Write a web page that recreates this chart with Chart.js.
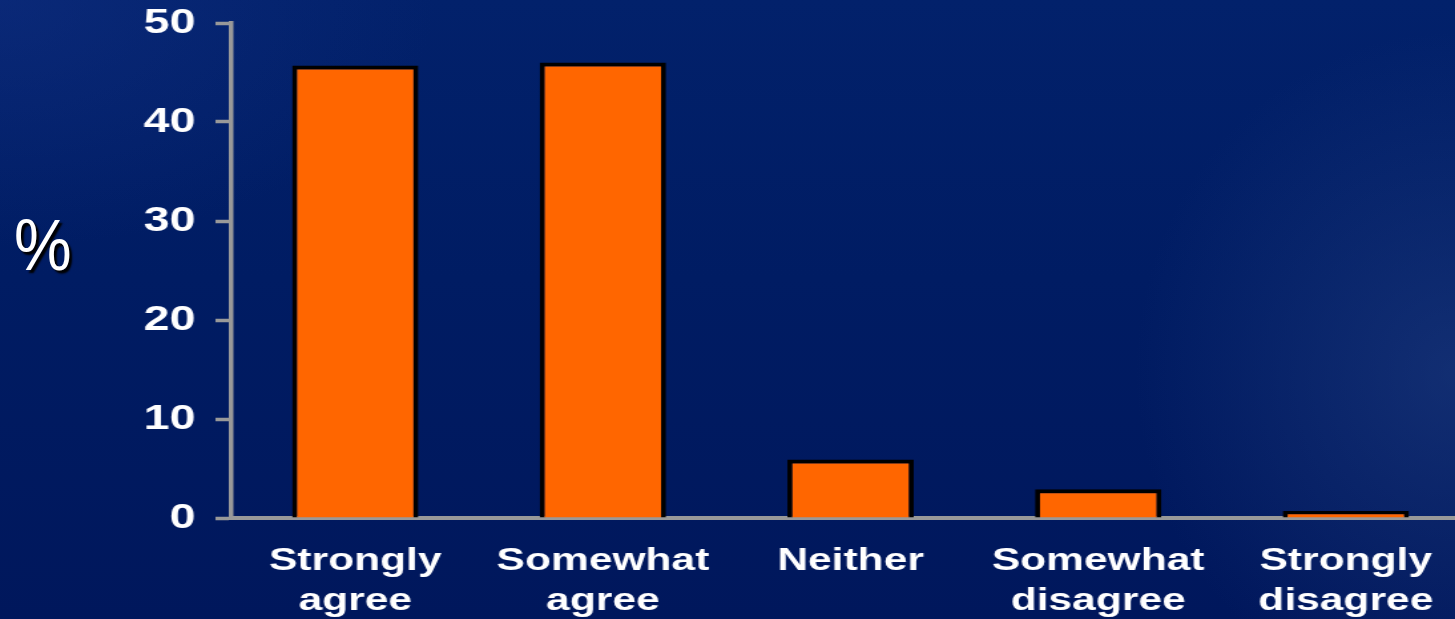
<!DOCTYPE html>
<html>
<head>
<meta charset="utf-8">
<script src="https://cdn.jsdelivr.net/npm/chart.js@4"></script>
<style>
html, body {
    margin: 0;
    padding: 0;
    width: 1455px;
    height: 619px;
    overflow: hidden;
}
body {
    position: relative;
    background:
        radial-gradient(ellipse 22% 55% at 100% 60%, rgba(45, 75, 140, 0.4), rgba(45, 75, 140, 0) 100%),
        radial-gradient(ellipse 30% 40% at 0% 0%, rgba(20, 50, 135, 0.45), rgba(20, 50, 135, 0) 100%),
        linear-gradient(180deg, #02216b 0%, #001c63 45%, #00175c 100%);
}
#wrap {
    position: absolute;
    left: 0;
    top: 0;
    width: 1105px;
    height: 619px;
    transform: scaleX(1.33);
    transform-origin: 0 0;
}
#pct {
    position: absolute;
    left: 14px;
    top: 204px;
    font-family: "Liberation Sans", Arial, sans-serif;
    font-size: 72px;
    color: #fff;
    transform: scaleX(0.9);
    transform-origin: 0 0;
    text-shadow: 3px 3px 2px #000;
}
</style>
</head>
<body>
<div id="pct">%</div>
<div id="wrap"><canvas id="myChart" width="1105" height="619"></canvas></div>
<script>
const categorias = [['Strongly', 'agree'], ['Somewhat', 'agree'], ['Neither'], ['Somewhat', 'disagree'], ['Strongly', 'disagree']];
const valores = [45.7, 46.0, 5.9, 2.9, 0.7];
const ejeMin = 0;
const ejeMax = 50;
const ejePaso = 10;

const fuenteX = { family: "'Liberation Sans', Arial, sans-serif", size: 32, weight: 'bold', lineHeight: 1.25 };
const fuenteY = { family: "'Liberation Sans', Arial, sans-serif", size: 35, weight: 'bold', lineHeight: 1 };
const gris = '#999999';

const ctx = document.getElementById('myChart').getContext('2d');
const myChart = new Chart(ctx, {
    type: 'bar',
    data: {
        labels: categorias,
        datasets: [{
            data: valores,
            backgroundColor: '#ff6600',
            borderColor: '#000000',
            borderWidth: { top: 4, left: 3.75, right: 3.75, bottom: 0 },
            borderSkipped: 'bottom',
            categoryPercentage: 1,
            barPercentage: 0.51
        }]
    },
    options: {
        responsive: false,
        animation: false,
        layout: { padding: { top: 23, right: 0, left: 0, bottom: 0 } },
        plugins: {
            legend: { display: false },
            tooltip: { enabled: false }
        },
        scales: {
            x: {
                grid: { display: false },
                border: { display: true, color: gris, width: 4 },
                ticks: {
                    color: '#ffffff',
                    font: fuenteX,
                    padding: 15,
                    maxRotation: 0,
                    autoSkip: false
                },
                afterFit: (scale) => {
                    scale.height = 101;
                    scale.paddingLeft = 0;
                    scale.paddingRight = 0;
                }
            },
            y: {
                min: ejeMin,
                max: ejeMax,
                grid: {
                    display: true,
                    drawOnChartArea: false,
                    drawTicks: true,
                    tickLength: 12,
                    tickColor: gris,
                    tickWidth: 3.5
                },
                border: { display: true, color: gris, width: 3.5 },
                ticks: {
                    stepSize: ejePaso,
                    color: '#ffffff',
                    font: fuenteY,
                    padding: 15
                },
                afterFit: (scale) => {
                    scale.width = 174;
                    scale.paddingTop = 0;
                    scale.paddingBottom = 0;
                }
            }
        }
    }
});
</script>
</body>
</html>
